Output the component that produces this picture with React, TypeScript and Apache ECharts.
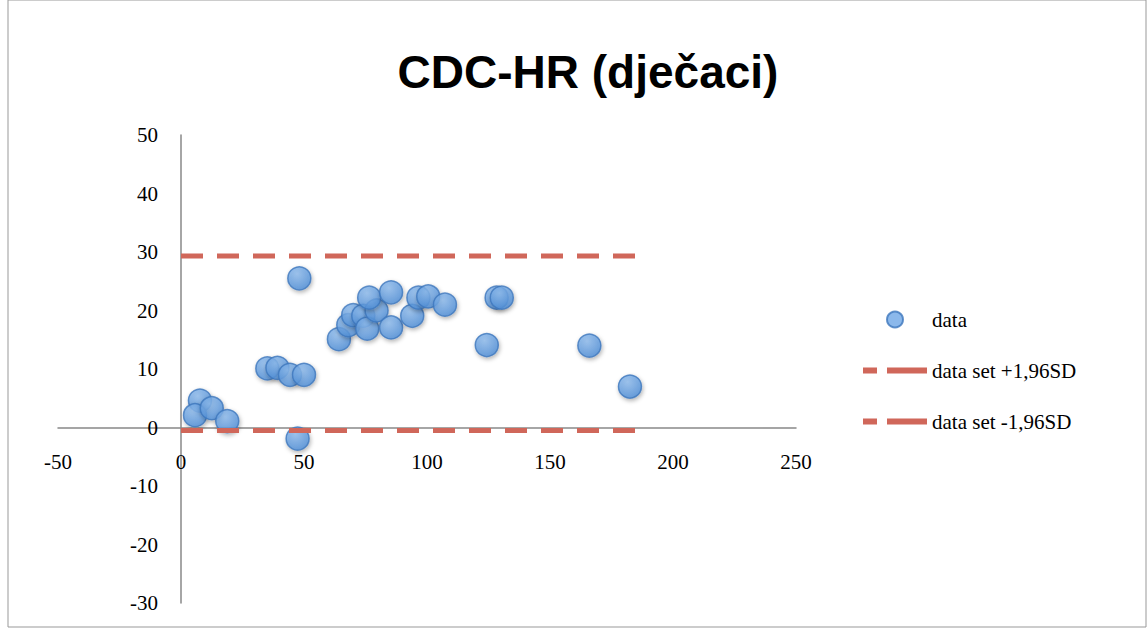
import React, { useEffect, useRef } from "react";
import * as echarts from "echarts";

const dataX = [48.1, 7.7, 5.7, 12.5, 18.8, 35.1, 39.2, 44.3, 50, 47.4, 64.2, 68, 70, 74.1, 75.7, 79.5, 76.5, 85.4, 85.4, 94, 96.5, 100.5, 107.3, 124.3, 128.3, 130.4, 166, 182.5];
const dataY = [25.5, 4.6, 2.1, 3.3, 1.1, 10.1, 10.2, 9, 9, -1.9, 15.1, 17.5, 19.2, 19.1, 16.9, 20, 22.2, 23.1, 17.1, 19.1, 22.2, 22.4, 21, 14.1, 22.2, 22.2, 14, 7.0];
const upperX = [0, 185];
const upperY = [29.3, 29.3];
const lowerX = [0, 185];
const lowerY = [-0.5, -0.5];

export default function App() {
  const ref = useRef<HTMLDivElement>(null);
  useEffect(() => {
    const chart = echarts.init(ref.current!, null, { renderer: "svg" });
    const serif = "Liberation Serif";
    const dash = { color: "#d0675a", width: 5, type: [22, 14] as any };
    const dashIcon = "path://M0,0h14v6h-14z M24,0h40v6h-40z";
    chart.setOption({
      animation: false,
      backgroundColor: "#fff",
      title: {
        text: "CDC-HR (dječaci)",
        left: 583,
        top: 44,
        textAlign: "center",
        textStyle: { fontFamily: "Liberation Sans", fontWeight: "bold", fontSize: 46, color: "#000" },
      },
      graphic: [
        { type: "rect", shape: { x: 8, y: 0, width: 1138, height: 627 }, style: { fill: "none", stroke: "#999", lineWidth: 1 } },
      ],
      legend: {
        orient: "vertical",
        left: 858,
        top: 304,
        itemGap: 30,
        itemWidth: 64,
        itemHeight: 16,
        textStyle: { fontFamily: serif, fontSize: 21, color: "#000" },
        data: [
          { name: "data", icon: "circle", itemStyle: { color: "#6ea6e6", borderColor: "#3d77bd" } },
          { name: "data set +1,96SD", icon: dashIcon, itemStyle: { color: "#d0675a" } },
          { name: "data set -1,96SD", icon: dashIcon, itemStyle: { color: "#d0675a" } },
        ],
      },
      grid: { left: 58, right: 351, top: 135, bottom: 25 },
      xAxis: {
        type: "value",
        min: -50,
        max: 250,
        interval: 50,
        axisLine: { onZero: true, lineStyle: { color: "#888", width: 1.5 } },
        axisTick: { show: false },
        splitLine: { show: false },
        axisLabel: { fontFamily: serif, fontSize: 21, color: "#000", margin: -152 },
      },
      yAxis: {
        type: "value",
        min: -30,
        max: 50,
        interval: 10,
        axisLine: { show: true, onZero: true, lineStyle: { color: "#888", width: 1.5 } },
        axisTick: { show: false },
        splitLine: { show: false },
        axisLabel: { fontFamily: serif, fontSize: 21, color: "#000", margin: -100 },
      },
      series: [
        {
          name: "data set +1,96SD",
          type: "line",
          data: upperX.map((x, i) => [x, upperY[i]]),
          symbol: "none",
          lineStyle: dash,
          itemStyle: { color: "#d0675a" },
        },
        {
          name: "data set -1,96SD",
          type: "line",
          data: lowerX.map((x, i) => [x, lowerY[i]]),
          symbol: "none",
          lineStyle: dash,
          itemStyle: { color: "#d0675a" },
        },
        {
          name: "data",
          type: "scatter",
          symbolSize: 23,
          data: dataX.map((x, i) => [x, dataY[i]]),
          itemStyle: {
            color: new echarts.graphic.RadialGradient(0.4, 0.3, 0.7, [
              { offset: 0, color: "#8fbcee" },
              { offset: 1, color: "#4f8fd8" },
            ]),
            borderColor: "#3d77bd",
            borderWidth: 1.5,
            shadowColor: "rgba(0,0,0,0.35)",
            shadowBlur: 4,
            shadowOffsetX: 1,
            shadowOffsetY: 2,
          },
        },
      ],
    });
    return () => chart.dispose();
  }, []);
  return <div ref={ref} style={{ position: "fixed", left: 0, top: 0, width: 1147, height: 628 }} />;
}
